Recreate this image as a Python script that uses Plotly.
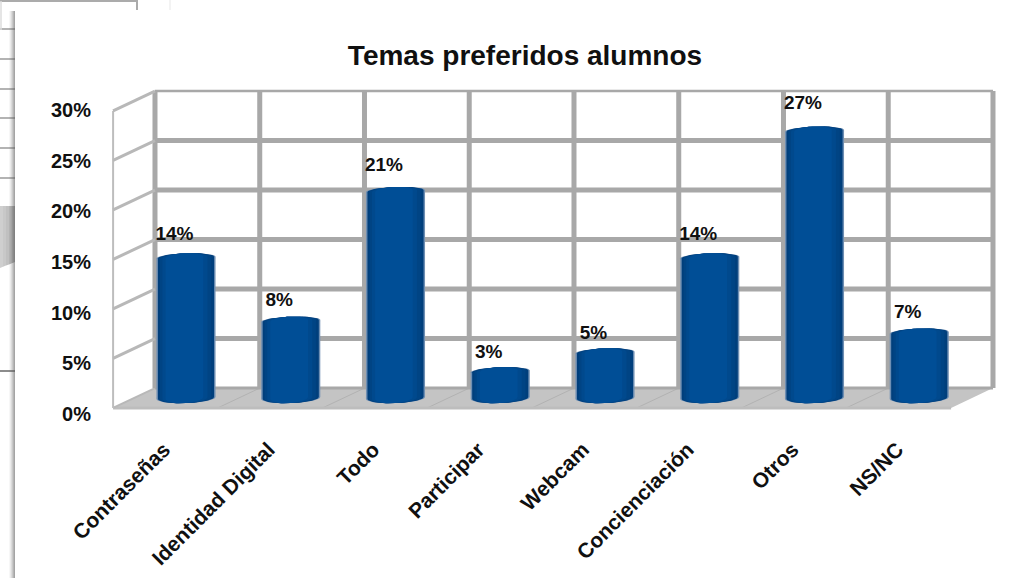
import numpy as np
import plotly.graph_objects as go

CATEGORIES = ["Contraseñas", "Identidad Digital", "Todo", "Participar", "Webcam", "Concienciación", "Otros", "NS/NC"]
VALUES = [14.2, 7.8, 20.9, 2.7, 4.6, 14.2, 27.0, 6.6]
LABELS = ["14%", "8%", "21%", "3%", "5%", "14%", "27%", "7%"]
Y_TICKS = [0, 5, 10, 15, 20, 25, 30]
Y_TICK_LABELS = ["0%", "5%", "10%", "15%", "20%", "25%", "30%"]

W, H = 1021, 578
PX_X0, PX_X1, PX_Y0, PX_Y1 = 100, 1005, 414, 85   # plot rectangle in page pixels
X_UNIT, X_ORIGIN = 104.75, 186.0                   # px per category, px of first category
Y_UNIT, Y_ORIGIN = 9.9, 398.0                      # px per percent, px of zero at mid depth
DX, DY = 0.2, 1.0                                  # half depth of the box, in data units
N = len(CATEGORIES)
LEFT, RIGHT = -0.496, N - 0.496
TOP = 30

GRID = "#a8a8a8"
FLOOR = "#c4c4c4"
FONT = "Liberation Sans"
INK = "#101010"

fig = go.Figure()


def line(xs, ys, width, color=GRID):
    fig.add_trace(go.Scatter(x=xs, y=ys, mode="lines", line=dict(color=color, width=width),
                             hoverinfo="skip", showlegend=False))


def poly(xs, ys, color):
    fig.add_trace(go.Scatter(x=xs, y=ys, mode="lines", fill="toself", fillcolor=color,
                             line=dict(color=color, width=0), hoverinfo="skip", showlegend=False))


# floor
poly([LEFT - DX, RIGHT - DX, RIGHT + DX, LEFT + DX, LEFT - DX],
     [-DY, -DY, DY, DY, -DY], FLOOR)
for k in range(1, N):
    line([LEFT + k - DX, LEFT + k + DX], [-DY, DY], 1, "#b2b2b2")
line([LEFT - DX, RIGHT - DX], [-DY, -DY], 3, "#bdbdbd")
line([LEFT - DX, LEFT + DX], [-DY, DY], 2, "#b8b8b8")

# back wall
for k in range(N + 1):
    line([LEFT + k + DX] * 2, [DY, TOP + DY], 5)
for t in Y_TICKS[1:-1]:
    line([LEFT + DX, RIGHT + DX], [t + DY, t + DY], 5)
line([LEFT + DX, RIGHT + DX], [DY, DY], 3)
line([LEFT + DX, RIGHT + DX], [TOP + DY, TOP + DY], 2.5)

# side wall
line([LEFT - DX, LEFT - DX], [-DY, TOP - DY], 2, "#bdbdbd")
for t in Y_TICKS[1:]:
    line([LEFT - DX, LEFT + DX], [t - DY, t + DY], 3, "#b8b8b8")

# cylinders: layered from the dark rim to the lit centre
LAYERS = [(0.282, 0.0, "#6f8fb3"), (0.268, 0.0, "#003f7c"), (0.245, -0.004, "#004484"),
          (0.215, -0.010, "#00498d"), (0.180, -0.015, "#004e96")]
t_top = np.linspace(np.pi, 0, 40)
t_bot = np.linspace(0, -np.pi, 40)
for half, shift, color in LAYERS:
    for i, v in enumerate(VALUES):
        c = i + shift
        xs = np.r_[c + half * np.cos(t_top), c + half * np.cos(t_bot), c - half]
        ys = np.r_[v + 0.42 * np.sin(t_top) + 0.1 * np.cos(t_top),
                   0.52 * np.sin(t_bot) + 0.1 * np.cos(t_bot),
                   v - 0.1]
        poly(xs, ys, color)

fig.add_trace(go.Bar(x=list(range(N)), y=VALUES, width=0.28, marker=dict(color="#004e96", line=dict(width=0)),
                     offset=-0.155, hoverinfo="skip", showlegend=False))

# value labels
fig.add_trace(go.Scatter(x=[i - 0.11 for i in range(N)], y=[v + 1.72 + 0.037 * v for v in VALUES],
                         mode="text", text=[f"<b>{s}</b>" for s in LABELS], textposition="middle center",
                         textfont=dict(family=FONT, size=19, color=INK),
                         hoverinfo="skip", showlegend=False, cliponaxis=False))

# axis scale so that ticks land where the reference prints them
y2_unit = (414 - 110) / 30


def px_rect(x0, x1, y0, y1, color):
    return dict(type="rect", xref="paper", yref="paper", x0=x0 / W, x1=x1 / W, y0=1 - y1 / H, y1=1 - y0 / H,
                fillcolor=color, line_width=0, layer="below")


def px_line(x0, y0, x1, y1, color, width):
    return dict(type="line", xref="paper", yref="paper", x0=x0 / W, x1=x1 / W, y0=1 - y0 / H, y1=1 - y1 / H,
                line=dict(color=color, width=width), layer="below")


# surroundings of the card in the screenshot
shapes = []
for py in [29, 59, 89, 118, 148, 178]:
    shapes.append(px_line(0, py, 15, py, "#9a9a9a", 1.5))
for k, col in enumerate(["#cfcfcf", "#c8c8c8", "#c0c0c0", "#b8b8b8", "#b0b0b0"]):
    x0 = k * 3
    shapes.append(dict(type="path", xref="paper", yref="paper", layer="below", fillcolor=col, line_width=0,
                       path=f"M {x0 / W},{1 - 206 / H} L {(x0 + 3) / W},{1 - 206 / H} "
                            f"L {(x0 + 3) / W},{1 - (268 - (x0 + 3) * 0.4) / H} L {x0 / W},{1 - (268 - x0 * 0.4) / H} Z"))
shapes.append(px_line(0, 371, 15, 371, "#8c8c8c", 2))
for k, alpha in enumerate([0.05, 0.12, 0.22, 0.33, 0.45, 0.55]):
    shapes.append(px_rect(9 + k, 10 + k, 11, H, f"rgba(90,90,90,{alpha})"))
shapes.append(px_line(0, 1, 137, 1, "#ababab", 2))
shapes.append(px_line(137, 0, 137, 10, "#ababab", 2))
shapes.append(px_line(1, 1, 1, 30, "#dddddd", 1.5))
shapes.append(px_line(170, 0, 170, 10, "#efefef", 1.5))

fig.update_layout(
    width=W, height=H, autosize=False,
    margin=dict(l=0, r=0, t=0, b=0),
    paper_bgcolor="#ffffff", plot_bgcolor="#ffffff",
    barmode="overlay", showlegend=False, shapes=shapes,
    title=dict(text="<b>Temas preferidos alumnos</b>", x=525 / W, xanchor="center",
               y=1 - 55 / H, yanchor="middle",
               font=dict(family=FONT, size=28, color=INK)),
    xaxis=dict(domain=[PX_X0 / W, PX_X1 / W],
               range=[(PX_X0 - X_ORIGIN) / X_UNIT, (PX_X1 - X_ORIGIN) / X_UNIT],
               tickmode="array", tickvals=[i - 0.21 for i in range(N)], ticktext=[f"<b>{c}</b>" for c in CATEGORIES],
               tickangle=-45, ticks="outside", ticklen=14, tickcolor="rgba(0,0,0,0)",
               tickfont=dict(family=FONT, size=21, color=INK),
               showgrid=False, zeroline=False, showline=False, automargin=False),
    yaxis=dict(domain=[1 - PX_Y0 / H, 1 - PX_Y1 / H],
               range=[(Y_ORIGIN - PX_Y0) / Y_UNIT, (Y_ORIGIN - PX_Y1) / Y_UNIT],
               showticklabels=False, showgrid=False, zeroline=False, showline=False, ticks=""),
    yaxis2=dict(domain=[1 - PX_Y0 / H, 1 - PX_Y1 / H], overlaying="y", side="left", anchor="x",
                range=[0, (PX_Y0 - PX_Y1) / y2_unit],
                tickmode="array", tickvals=Y_TICKS, ticktext=[f"<b>{t}</b>" for t in Y_TICK_LABELS],
                ticks="outside", ticklen=4, tickcolor="rgba(0,0,0,0)",
                tickfont=dict(family=FONT, size=20, color=INK),
                showgrid=False, zeroline=False, showline=False, automargin=False),
)
# an empty trace keeps the printed percentage axis alive
fig.add_trace(go.Scatter(x=[None], y=[None], yaxis="y2", hoverinfo="skip", showlegend=False))

fig.write_html("out.html", config={"displayModeBar": False},
               post_script="document.body.style.margin='0';document.body.style.overflow='hidden';")
